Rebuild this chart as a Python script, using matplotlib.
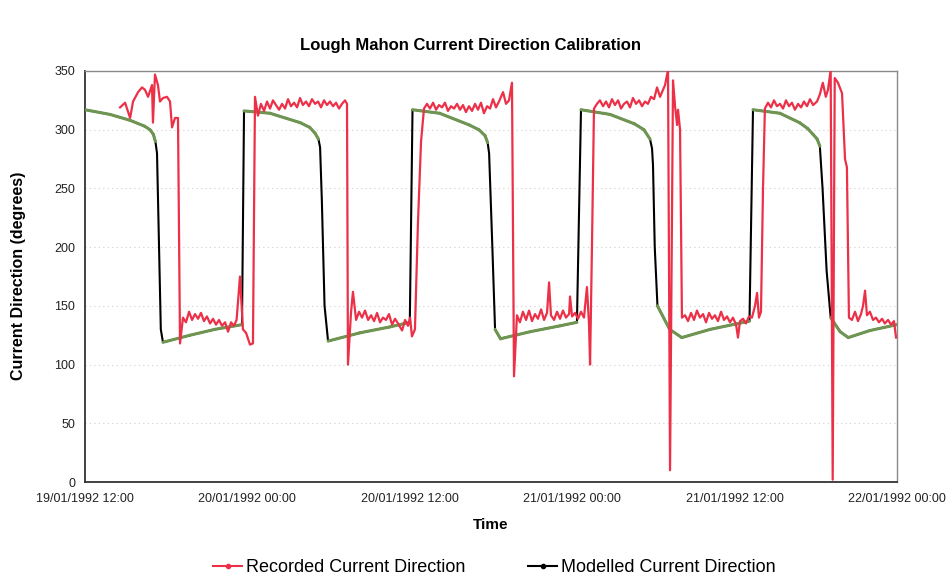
import numpy as np
import matplotlib
matplotlib.use("Agg")
import matplotlib.pyplot as plt
import matplotlib.dates as mdates
from matplotlib.collections import LineCollection
from matplotlib.lines import Line2D
import datetime as dt

plt.rcParams['font.family'] = ['Liberation Sans', 'DejaVu Sans']

title = "Lough Mahon Current Direction Calibration"
start = dt.datetime(1992, 1, 19, 12, 0)
end = dt.datetime(1992, 1, 22, 0, 0)
tick_hours = [0, 12, 24, 36, 48, 60]
y_ticks = [0, 50, 100, 150, 200, 250, 300, 350]

# Modelled current direction (hours after 19/01/1992 12:00, degrees)
mod_h = [0.0, 1.85, 3.33, 4.4, 4.8, 5.05, 5.2, 5.32, 5.47, 5.6, 5.76, 7.76, 9.6, 11.6,
         11.75, 13.67, 15.9, 16.6, 17.0, 17.25, 17.37, 17.5, 17.7, 17.96, 20.3, 22.5, 24.0,
         24.2, 26.2, 28.4, 29.1, 29.56, 29.75, 29.86, 30.1, 30.3, 30.7, 32.9, 35.1, 36.35,
         36.65, 38.8, 40.6, 41.3, 41.75, 41.9, 41.97, 42.1, 42.3, 43.2, 44.1, 46.2, 49.1,
         49.36, 51.35, 52.8, 53.4, 53.8, 54.1, 54.3, 54.5, 54.8, 55.1, 55.8, 56.4, 58.0, 60.0]
mod_v = [317, 313, 308, 303, 300, 296, 290, 280, 200, 130, 119, 125, 130, 134,
         316, 314, 306, 302, 297, 292, 285, 240, 150, 120, 127, 132, 136,
         317, 314, 304, 300, 295, 289, 280, 200, 130, 122, 128, 133, 136,
         317, 313, 305, 300, 292, 284, 270, 200, 150, 130, 123, 130, 137,
         317, 314, 306, 301, 296, 292, 286, 250, 180, 140, 128, 123, 129, 134]

# Recorded current direction (hours after 19/01/1992 12:00, degrees)
rec_h = [2.59, 2.96, 3.33, 3.55, 3.92, 4.21, 4.43, 4.66, 4.95, 5.02, 5.17, 5.39,
         5.54, 5.76, 6.06, 6.28, 6.43, 6.65, 6.87, 7.02, 7.24, 7.46, 7.69, 7.91,
         8.13, 8.35, 8.57, 8.79, 9.01, 9.24, 9.46, 9.68, 9.9, 10.12, 10.35, 10.57,
         10.79, 11.0, 11.2, 11.45, 11.67, 11.9, 12.19, 12.41, 12.56, 12.78, 13.0,
         13.23, 13.45, 13.67, 13.89, 14.11, 14.34, 14.56, 14.78, 15.0, 15.22,
         15.45, 15.67, 15.89, 16.1, 16.33, 16.55, 16.77, 17.0, 17.22, 17.44,
         17.66, 17.88, 18.1, 18.33, 18.55, 18.77, 18.99, 19.21, 19.36, 19.43,
         19.66, 19.8, 20.03, 20.25, 20.47, 20.69, 20.92, 21.14, 21.36, 21.58,
         21.8, 22.02, 22.24, 22.46, 22.69, 22.91, 23.13, 23.43, 23.65, 23.87,
         24.02, 24.16, 24.38, 24.6, 24.83, 25.05, 25.27, 25.49, 25.72, 25.94,
         26.16, 26.38, 26.6, 26.82, 27.05, 27.27, 27.49, 27.71, 27.93, 28.15,
         28.37, 28.6, 28.82, 29.04, 29.26, 29.48, 29.71, 29.93, 30.15, 30.37,
         30.59, 30.89, 31.11, 31.33, 31.55, 31.7, 31.92, 32.14, 32.36, 32.59,
         32.81, 33.03, 33.25, 33.47, 33.7, 33.92, 34.14, 34.29, 34.43, 34.66,
         34.88, 35.1, 35.32, 35.54, 35.77, 35.84, 35.99, 36.21, 36.43, 36.65,
         36.87, 37.09, 37.24, 37.32, 37.46, 37.61, 37.83, 38.05, 38.28, 38.5,
         38.72, 38.94, 39.16, 39.39, 39.61, 39.83, 40.05, 40.27, 40.49, 40.72,
         40.94, 41.16, 41.38, 41.6, 41.82, 42.05, 42.27, 42.49, 42.71, 42.86,
         43.08, 43.23, 43.45, 43.6, 43.75, 43.82, 43.97, 44.11, 44.34, 44.56,
         44.78, 45.0, 45.22, 45.44, 45.67, 45.89, 46.11, 46.33, 46.55, 46.77,
         47.0, 47.22, 47.44, 47.66, 47.88, 48.11, 48.25, 48.4, 48.62, 48.84,
         49.06, 49.28, 49.51, 49.66, 49.8, 49.95, 50.1, 50.24, 50.47, 50.69,
         50.91, 51.13, 51.36, 51.58, 51.8, 52.02, 52.24, 52.46, 52.69, 52.91,
         53.13, 53.35, 53.57, 53.8, 54.09, 54.3, 54.52, 54.74, 54.9, 55.1,
         55.25, 55.4, 55.64, 55.94, 56.16, 56.3, 56.45, 56.67, 56.9, 57.12,
         57.34, 57.49, 57.64, 57.78, 58.0, 58.23, 58.45, 58.67, 58.9, 59.1,
         59.34, 59.56, 59.78, 59.93]
rec_v = [319, 323, 310, 324, 332, 336, 334, 328, 338, 306, 347, 338,
         324, 327, 328, 324, 302, 310, 310, 118, 140, 136, 145, 138,
         143, 139, 144, 137, 141, 135, 139, 134, 138, 133, 136, 128,
         136, 133, 138, 175, 130, 127, 117, 118, 328, 312, 322,
         316, 324, 318, 325, 321, 317, 322, 318, 326, 320,
         323, 319, 327, 321, 324, 320, 326, 322, 324, 319,
         325, 321, 324, 320, 323, 318, 322, 325, 322, 100,
         145, 162, 138, 145, 140, 146, 138, 142, 137, 144,
         136, 140, 138, 143, 134, 139, 135, 129, 138, 133,
         140, 124, 130, 220, 290, 318, 322, 318, 323, 317,
         321, 319, 323, 316, 320, 318, 322, 317, 321, 315,
         320, 316, 322, 317, 323, 314, 320, 318, 326, 319,
         324, 332, 322, 325, 340, 90, 142, 136, 145, 138,
         146, 137, 143, 139, 147, 138, 144, 170, 142, 138,
         145, 139, 146, 140, 143, 158, 141, 144, 139, 145,
         140, 166, 135, 100, 200, 318, 322, 325, 320, 324,
         319, 326, 321, 325, 318, 322, 324, 319, 327, 322,
         325, 320, 324, 322, 328, 326, 336, 328, 334, 338,
         351, 10, 342, 320, 304, 317, 300, 140, 142, 137,
         144, 138, 146, 140, 143, 136, 144, 139, 142, 137,
         145, 138, 141, 136, 140, 134, 123, 137, 139, 135,
         141, 140, 150, 161, 140, 145, 250, 318, 323, 319,
         325, 320, 322, 318, 325, 320, 323, 317, 322, 319,
         324, 320, 326, 321, 324, 330, 340, 328, 334, 351,
         2, 344, 340, 331, 275, 268, 140, 138, 145, 137,
         143, 150, 163, 142, 145, 138, 140, 136, 139, 135,
         138, 134, 137, 123]

to_dt = lambda hs: [start + dt.timedelta(hours=h) for h in hs]
mod_t = mdates.date2num(to_dt(mod_h))
rec_t = mdates.date2num(to_dt(rec_h))

fig = plt.figure(figsize=(9.51, 5.79), dpi=100)
ax = fig.add_axes([0.0894, 0.1675, 0.8538, 0.7099])

# faint dotted gridlines
for yv in y_ticks[1:-1]:
    ax.axhline(yv, color='#cfcfcf', lw=0.8, ls=(0, (1, 3)), zorder=0)

# modelled: black line, green overlay on gentle parts
ax.plot(mod_t, mod_v, color='black', lw=1.5, zorder=2, solid_joinstyle='round')
mv = np.array(mod_v, dtype=float)
mh = np.array(mod_h, dtype=float)
slope = np.abs(np.diff(mv) / np.diff(mh))
segs = [[(mod_t[i], mv[i]), (mod_t[i + 1], mv[i + 1])] for i in range(len(mv) - 1) if slope[i] < 40]
ax.add_collection(LineCollection(segs, colors='#6f9552', linewidths=2.2, zorder=3, capstyle='round'))

# recorded
ax.plot(rec_t, rec_v, color='#ec3048', lw=1.6, zorder=4)

ax.set_xlim(mdates.date2num(start), mdates.date2num(end))
ax.set_ylim(0, 350)
ax.set_yticks(y_ticks)
ax.set_xticks(mdates.date2num(to_dt(tick_hours)))
ax.xaxis.set_major_formatter(mdates.DateFormatter('%d/%m/%Y %H:%M'))
ax.tick_params(axis='both', length=0, labelsize=9, colors='#222222')
ax.tick_params(axis='x', pad=8)
ax.tick_params(axis='y', pad=7)
for s in ['top', 'right']:
    ax.spines[s].set_color('#8a8a8a')
    ax.spines[s].set_linewidth(1.0)
for s in ['left', 'bottom']:
    ax.spines[s].set_color('#333333')
    ax.spines[s].set_linewidth(1.3)

fig.text(0.495, 0.922, title, ha='center', va='center', fontsize=12, fontweight='bold')
fig.text(0.019, 0.523, "Current Direction (degrees)", rotation=90, ha='center', va='center',
         fontsize=11.5, fontweight='bold')
fig.text(0.516, 0.093, "Time", ha='center', va='center', fontsize=11, fontweight='bold')

handles = [Line2D([], [], color='#ec3048', lw=1.5, marker='o', markersize=3),
           Line2D([], [], color='black', lw=1.5, marker='o', markersize=3)]
fig.legend(handles, ["Recorded Current Direction", "Modelled Current Direction"],
           loc='center', bbox_to_anchor=(0.52, 0.019), ncol=2, frameon=False,
           fontsize=13, handlelength=1.6, handletextpad=0.2, columnspacing=3.5)

fig.savefig("out.png", dpi=100)
